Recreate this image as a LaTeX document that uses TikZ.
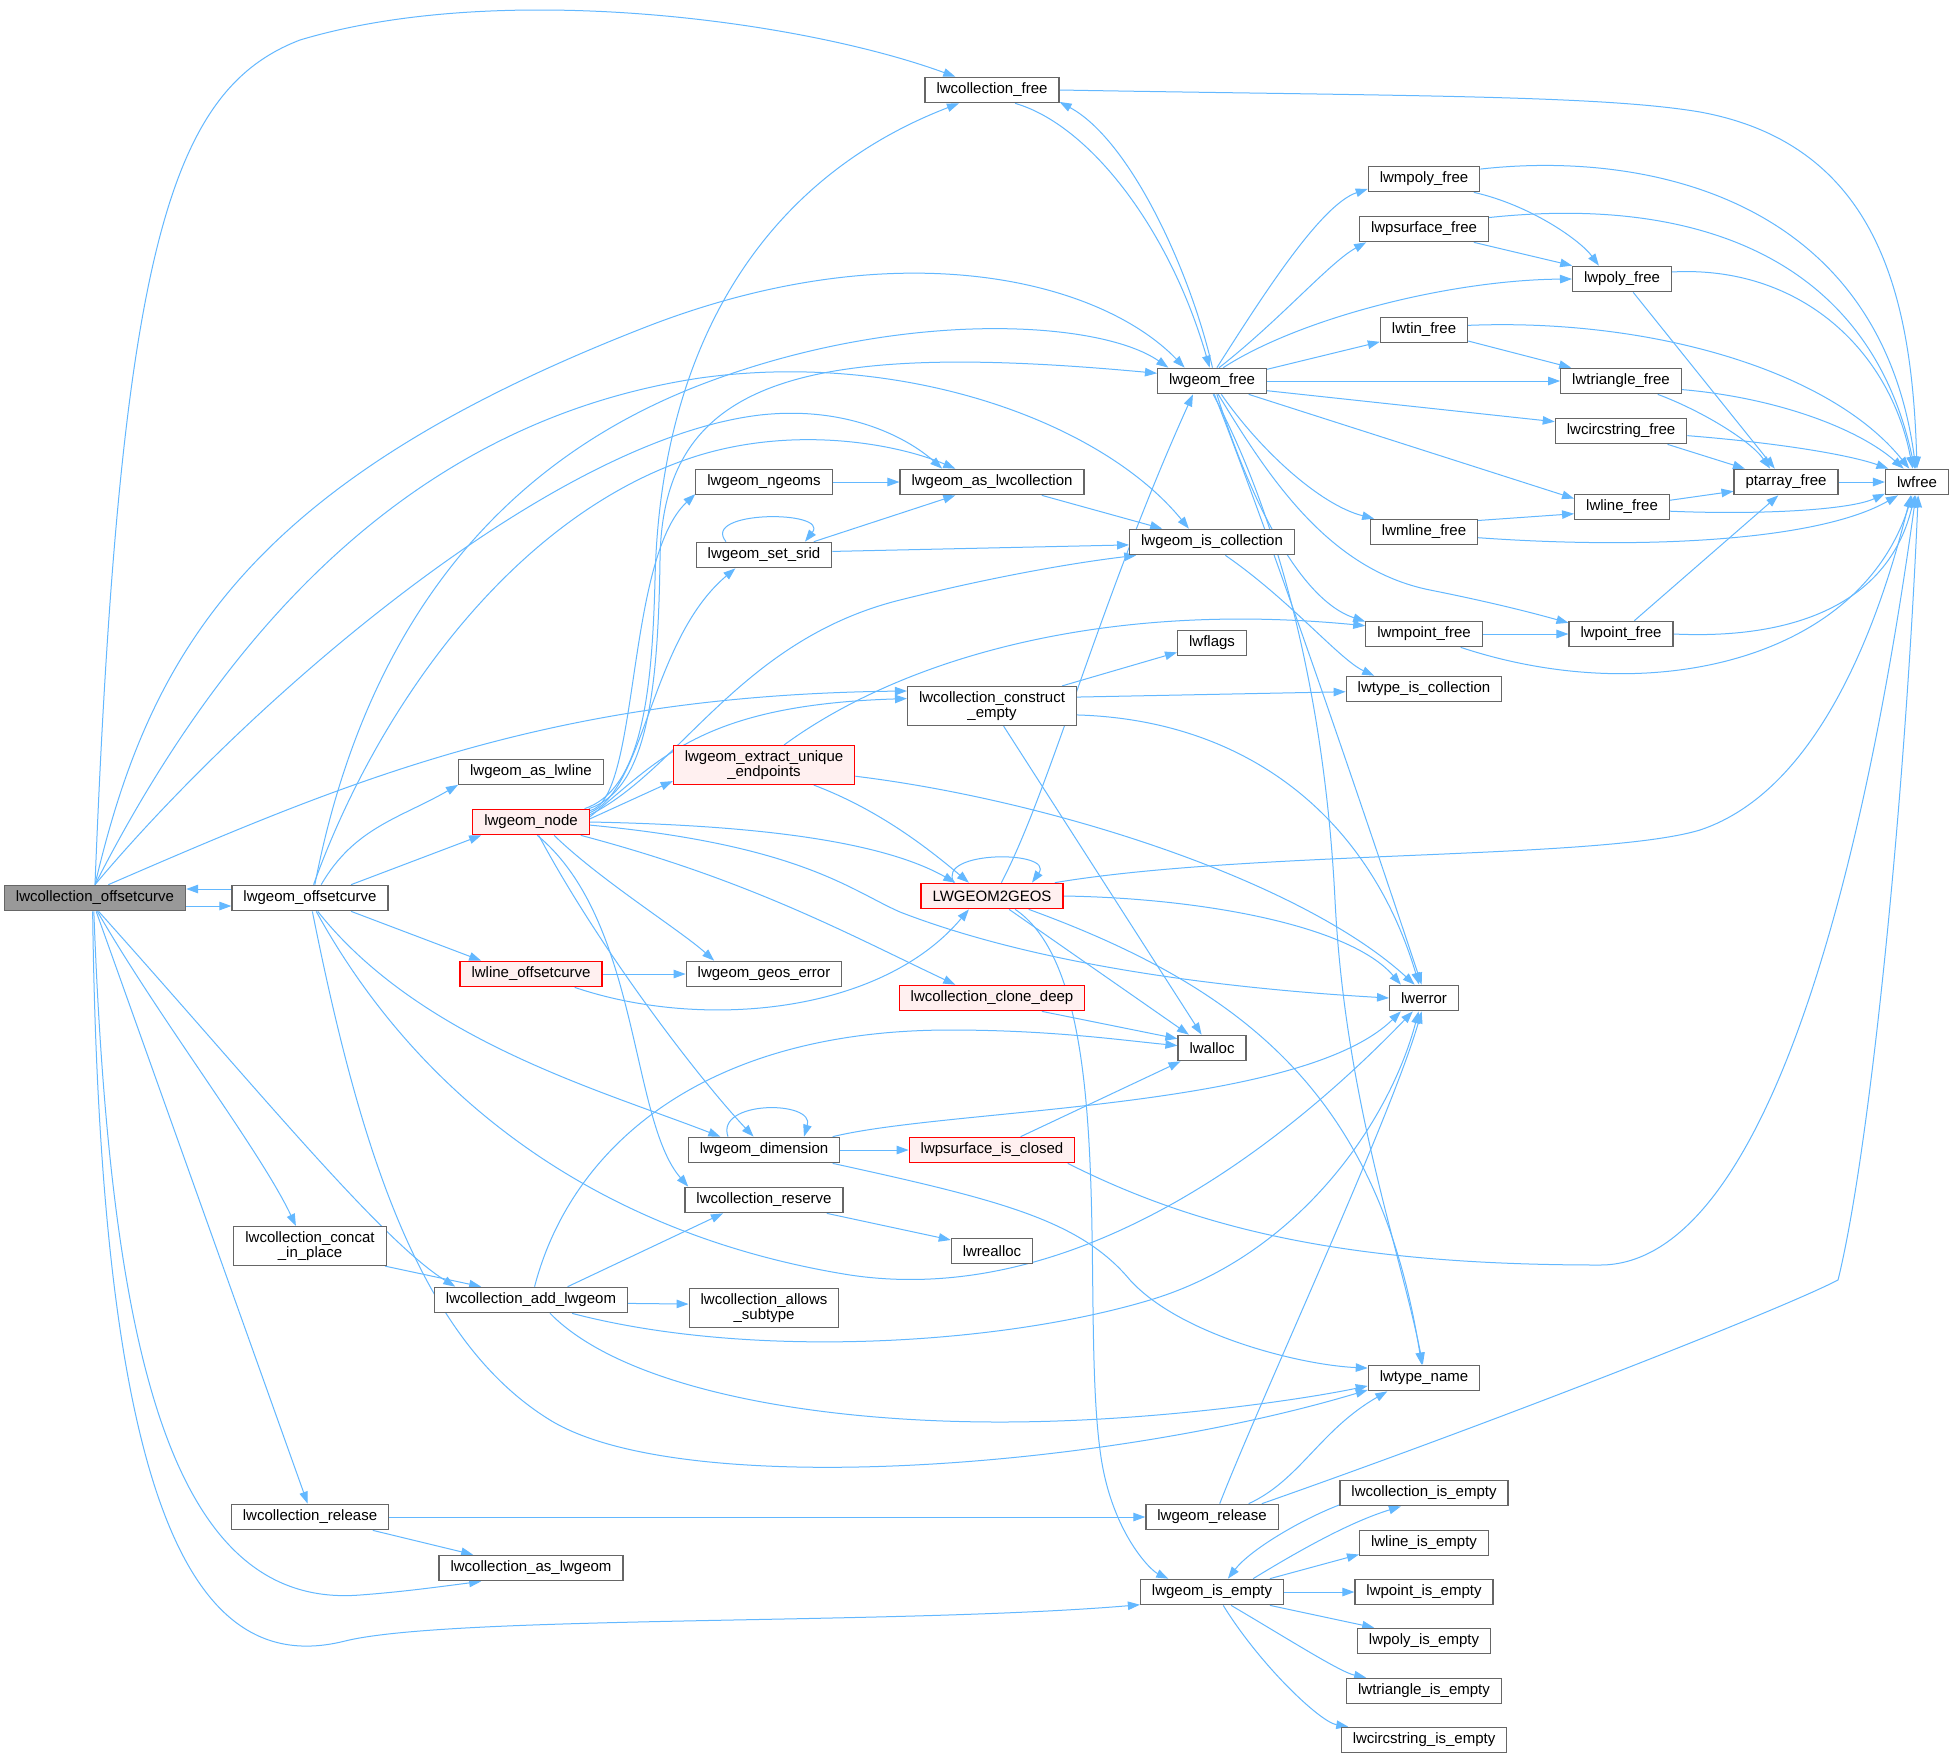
\documentclass[tikz,border=0pt]{standalone}
\usepackage{fontspec}
\setmainfont{Liberation Sans}
\usetikzlibrary{arrows.meta, backgrounds}
\definecolor{edgeblue}{RGB}{99, 184, 255}
\definecolor{nodegray}{RGB}{102, 102, 102}
\definecolor{rootgray}{RGB}{153, 153, 153}
\definecolor{truncpink}{RGB}{255, 240, 240}
\definecolor{truncred}{RGB}{255, 0, 0}

\begin{document}
\begin{tikzpicture}[
    x=1pt, y=-1pt,
    >={Triangle[length=12pt, width=8.5pt]},
    fn/.style={draw=nodegray, line width=1.2pt, fill=white, align=center,
               font=\fontsize{15}{15}\selectfont, inner xsep=11.5pt,
               inner ysep=5pt, minimum height=25.5pt},
    rootfn/.style={fn, fill=rootgray},
    truncfn/.style={fn, draw=truncred, fill=truncpink},
    call/.style={->, draw=edgeblue, line width=1pt},
]
\useasboundingbox (0,0) rectangle (1953,1757);

% --- Column 1-2: entry points ---
\node[rootfn] (offcol) at (95,898) {lwcollection\_offsetcurve};
\node[fn] (offgeom) at (310,898) {lwgeom\_offsetcurve};
\node[fn] (concat) at (310,1246) {lwcollection\_concat\\\_in\_place};
\node[fn] (colrelease) at (310,1517) {lwcollection\_release};

% --- Column 3 ---
\node[fn] (asline) at (531,772) {lwgeom\_as\_lwline};
\node[truncfn] (geomnode) at (531,822) {lwgeom\_node};
\node[truncfn] (lineoff) at (531,974) {lwline\_offsetcurve};
\node[fn] (addgeom) at (531,1300) {lwcollection\_add\_lwgeom};
\node[fn] (asgeom) at (531,1568) {lwcollection\_as\_lwgeom};

% --- Column 4 ---
\node[fn] (ngeoms) at (764,482) {lwgeom\_ngeoms};
\node[fn] (setsrid) at (764,555) {lwgeom\_set\_srid};
\node[truncfn] (endpts) at (764,765) {lwgeom\_extract\_unique\\\_endpoints};
\node[fn] (geoserr) at (764,974) {lwgeom\_geos\_error};
\node[fn] (dimension) at (764,1150) {lwgeom\_dimension};
\node[fn] (reserve) at (764,1200) {lwcollection\_reserve};
\node[fn] (allows) at (764,1308) {lwcollection\_allows\\\_subtype};

% --- Column 5 ---
\node[fn] (colfree) at (992,90) {lwcollection\_free};
\node[fn] (ascoll) at (992,482) {lwgeom\_as\_lwcollection};
\node[fn] (cempty) at (992,706) {lwcollection\_construct\\\_empty};
\node[truncfn] (togeos) at (992,896) {LWGEOM2GEOS};
\node[truncfn] (clonedeep) at (992,998) {lwcollection\_clone\_deep};
\node[truncfn] (psclosed) at (992,1150) {lwpsurface\_is\_closed};
\node[fn] (realloc) at (992,1251) {lwrealloc};

% --- Column 6 ---
\node[fn] (geomfree) at (1212,381) {lwgeom\_free};
\node[fn] (iscoll) at (1212,542) {lwgeom\_is\_collection};
\node[fn] (flags) at (1212,643) {lwflags};
\node[fn] (lwalloc) at (1212,1048) {lwalloc};
\node[fn] (release) at (1212,1517) {lwgeom\_release};
\node[fn] (isempty) at (1212,1592) {lwgeom\_is\_empty};

% --- Column 7 ---
\node[fn] (mpolyfree) at (1424,179) {lwmpoly\_free};
\node[fn] (psurffree) at (1424,229) {lwpsurface\_free};
\node[fn] (tinfree) at (1424,330) {lwtin\_free};
\node[fn] (mlinefree) at (1424,532) {lwmline\_free};
\node[fn] (mpointfree) at (1424,634) {lwmpoint\_free};
\node[fn] (typecoll) at (1424,689) {lwtype\_is\_collection};
\node[fn] (lwerror) at (1424,998) {lwerror};
\node[fn] (typename) at (1424,1378) {lwtype\_name};
\node[fn] (colempty) at (1424,1493) {lwcollection\_is\_empty};
\node[fn] (lineempty) at (1424,1543) {lwline\_is\_empty};
\node[fn] (pointempty) at (1424,1592) {lwpoint\_is\_empty};
\node[fn] (polyempty) at (1424,1641) {lwpoly\_is\_empty};
\node[fn] (triempty) at (1424,1691) {lwtriangle\_is\_empty};
\node[fn] (circempty) at (1424,1740) {lwcircstring\_is\_empty};

% --- Column 8-10 ---
\node[fn] (polyfree) at (1622,279) {lwpoly\_free};
\node[fn] (trifree) at (1621,381) {lwtriangle\_free};
\node[fn] (circfree) at (1621,431) {lwcircstring\_free};
\node[fn] (linefree) at (1622,507) {lwline\_free};
\node[fn] (pointfree) at (1621,634) {lwpoint\_free};
\node[fn] (ptafree) at (1786,482) {ptarray\_free};
\node[fn] (lwfree) at (1917,482) {lwfree};

\begin{scope}[on background layer]
\fill[white] (0,0) rectangle (1953,1757);

% ---- lwcollection_offsetcurve ----
\draw[call] (offcol.north) .. controls (120,250) and (170,90) .. (300,40)
    .. controls (500,-20) and (800,20) .. (colfree.160);
\draw[call] (offcol.north) .. controls (150,650) and (250,480) .. (651,325)
    .. controls (900,230) and (1100,280) .. (geomfree.154);
\draw[call] (offcol.north) .. controls (230,620) and (420,420) .. (700,378)
    .. controls (900,350) and (1100,420) .. (iscoll.150);
\draw[call] (offcol.north) .. controls (250,700) and (550,440) .. (760,415)
    .. controls (850,405) and (910,440) .. (ascoll.165);
\draw[call] (offcol.45) .. controls (350,780) and (550,695) .. (cempty.170);
\draw[call] ([yshift=-8pt]offcol.east) -- ([yshift=-8pt]offgeom.west);
\draw[call] (offcol.-80) .. controls (160,1020) and (260,1150) .. (concat.125);
\draw[call] (offcol.-75) .. controls (250,1080) and (380,1240) .. (addgeom.170);
\draw[call] (offcol.-85) -- (colrelease.100);
\draw[call] (offcol.-95) .. controls (110,1350) and (170,1610) .. (360,1595)
    .. controls (400,1592) and (430,1588) .. (asgeom.195);
\draw[call] (offcol.-100) .. controls (100,1500) and (190,1680) .. (345,1641)
    .. controls (450,1615) and (900,1625) .. (isempty.190);

% ---- lwgeom_offsetcurve ----
\draw[call] ([yshift=9pt]offgeom.west) -- ([yshift=9pt]offcol.east);
\draw[call] (offgeom.50) to[out=60, in=210] (asline.190);
\draw[call] (offgeom.18) -- (geomnode.195);
\draw[call] (offgeom.-18) -- (lineoff.165);
\draw[call] (offgeom.-60) .. controls (420,1040) and (600,1090) .. (dimension.163);
\draw[call] (offgeom.70) .. controls (360,650) and (480,470) .. (700,385)
    .. controls (900,308) and (1100,320) .. (geomfree.163);
\draw[call] (offgeom.75) .. controls (380,700) and (520,510) .. (700,455)
    .. controls (800,425) and (900,445) .. (ascoll.160);
\draw[call] (offgeom.-80) .. controls (360,1150) and (420,1340) .. (550,1420)
    .. controls (680,1500) and (1100,1470) .. (typename.-168);
\draw[call] (offgeom.-65) .. controls (420,1100) and (600,1235) .. (850,1275)
    .. controls (1050,1305) and (1250,1180) .. (lwerror.-130);

% ---- lwcollection_free / lwgeom_free ----
\draw[call] (colfree.-30) .. controls (1090,125) and (1170,230) .. (geomfree.100);
\draw[call] (geomfree.88) .. controls (1190,270) and (1130,140) .. (colfree.-10);
\draw[call] (colfree.east) .. controls (1400,96) and (1600,95) .. (1700,112)
    .. controls (1880,145) and (1912,300) .. (lwfree.90);
\draw[call] (geomfree.70) .. controls (1260,300) and (1320,205) .. (mpolyfree.190);
\draw[call] (geomfree.62) .. controls (1280,320) and (1330,262) .. (psurffree.193);
\draw[call] (geomfree.50) .. controls (1300,318) and (1450,280) .. (polyfree.west);
\draw[call] (geomfree.12) -- (tinfree.195);
\draw[call] (geomfree.east) -- (trifree.west);
\draw[call] (geomfree.-10) -- (circfree.172);
\draw[call] (geomfree.-20) -- (linefree.170);
\draw[call] (geomfree.-55) .. controls (1260,450) and (1320,505) .. (mlinefree.165);
\draw[call] (geomfree.-70) .. controls (1250,500) and (1300,600) .. (mpointfree.168);
\draw[call] (geomfree.-65) .. controls (1270,480) and (1330,570) .. (1430,590)
    .. controls (1500,604) and (1540,615) .. (pointfree.168);
\draw[call] (geomfree.-80) .. controls (1240,460) and (1300,620) .. (lwerror.100);
\draw[call] (geomfree.-85) .. controls (1280,520) and (1325,700) .. (1335,900)
    .. controls (1345,1100) and (1400,1250) .. (typename.95);

% ---- the free chain ----
\draw[call] (mpolyfree.10) .. controls (1650,150) and (1880,200) .. (lwfree.95);
\draw[call] (mpolyfree.-15) .. controls (1530,205) and (1580,240) .. (polyfree.150);
\draw[call] (psurffree.10) .. controls (1700,195) and (1870,260) .. (lwfree.100);
\draw[call] (psurffree.-15) -- (polyfree.165);
\draw[call] (polyfree.8) .. controls (1800,265) and (1890,350) .. (lwfree.108);
\draw[call] (polyfree.-50) -- (ptafree.130);
\draw[call] (tinfree.6) .. controls (1650,318) and (1830,370) .. (lwfree.120);
\draw[call] (tinfree.-14) -- (trifree.165);
\draw[call] (trifree.-20) .. controls (1700,410) and (1750,440) .. (ptafree.140);
\draw[call] (trifree.-8) .. controls (1780,398) and (1860,430) .. (lwfree.135);
\draw[call] (circfree.-16) -- (ptafree.162);
\draw[call] (circfree.-4) .. controls (1780,443) and (1850,455) .. (lwfree.155);
\draw[call] (ptafree.east) -- (lwfree.west);
\draw[call] (linefree.8) -- (ptafree.190);
\draw[call] (linefree.-5) .. controls (1760,515) and (1850,510) .. (lwfree.-160);
\draw[call] (mlinefree.12) -- (linefree.188);
\draw[call] (mlinefree.-6) .. controls (1650,550) and (1820,540) .. (lwfree.-145);
\draw[call] (mpointfree.east) -- (pointfree.west);
\draw[call] (mpointfree.-20) .. controls (1650,710) and (1860,660) .. (lwfree.-110);
\draw[call] (pointfree.45) -- (ptafree.-120);
\draw[call] (pointfree.east) .. controls (1800,640) and (1890,600) .. (lwfree.-100);

% ---- lwgeom_node ----
\draw[call] (geomnode.14) .. controls (640,790) and (652,700) .. (655,580)
    .. controls (660,350) and (760,180) .. (colfree.-158);
\draw[call] (geomnode.13) .. controls (645,790) and (658,700) .. (660,560)
    .. controls (662,380) and (800,340) .. (geomfree.172);
\draw[call] (geomnode.11) .. controls (640,800) and (625,560) .. (ngeoms.190);
\draw[call] (geomnode.9) .. controls (645,790) and (650,640) .. (setsrid.-155);
\draw[call] (geomnode.7) .. controls (680,770) and (740,640) .. (900,600)
    .. controls (1000,575) and (1080,562) .. (iscoll.-170);
\draw[call] (geomnode.5) .. controls (660,760) and (700,705) .. (cempty.175);
\draw[call] (geomnode.3) -- (endpts.-170);
\draw[call] (geomnode.east) .. controls (750,825) and (880,840) .. (togeos.160);
\draw[call] (geomnode.-3) .. controls (800,845) and (850,890) .. (900,912)
    .. controls (1050,970) and (1250,990) .. (lwerror.west);
\draw[call] (geomnode.-15) .. controls (750,880) and (850,935) .. (clonedeep.160);
\draw[call] (geomnode.-30) .. controls (600,880) and (680,930) .. (geoserr.165);
\draw[call] (geomnode.-60) .. controls (600,950) and (700,1080) .. (dimension.128);
\draw[call] (geomnode.-65) .. controls (640,920) and (630,1120) .. (reserve.170);

% ---- lwgeom_extract_unique_endpoints ----
\draw[call] (endpts.45) .. controls (900,660) and (1100,600) .. (mpointfree.172);
\draw[call] (endpts.-7) .. controls (1050,800) and (1300,880) .. (lwerror.125);
\draw[call] (endpts.-22) .. controls (880,810) and (930,850) .. (togeos.150);

% ---- LWGEOM2GEOS ----
\draw[call] ([xshift=-38pt]togeos.north) .. controls (935,850) and (1055,850)
    .. ([xshift=40pt]togeos.north);
\draw[call] (togeos.55) .. controls (1050,790) and (1100,600) .. (geomfree.-145);
\draw[call] (togeos.12) .. controls (1250,850) and (1600,860) .. (1700,830)
    .. controls (1820,790) and (1880,620) .. (lwfree.-115);
\draw[call] (togeos.east) .. controls (1200,898) and (1350,925) .. (lwerror.150);
\draw[call] (togeos.-38) -- (lwalloc.150);
\draw[call] (togeos.-30) .. controls (1120,980) and (1080,1300) .. (1100,1450)
    .. controls (1110,1530) and (1150,1570) .. (isempty.163);
\draw[call] (togeos.-20) .. controls (1250,990) and (1380,1100) .. (typename.100);

% ---- lwline_offsetcurve / clone ----
\draw[call] (lineoff.east) -- (geoserr.west);
\draw[call] (lineoff.-17) .. controls (700,1030) and (880,1015) .. (togeos.-150);
\draw[call] (clonedeep.-15) -- (lwalloc.165);

% ---- lwcollection_construct_empty ----
\draw[call] (cempty.16) -- (flags.195);
\draw[call] (cempty.6) -- (typecoll.182);
\draw[call] (cempty.-6) .. controls (1250,720) and (1370,820) .. (lwerror.110);
\draw[call] (cempty.-60) -- (lwalloc.128);

% ---- collection helpers ----
\draw[call] (ngeoms.east) -- (ascoll.west);
\draw[call] (setsrid.15) -- (ascoll.-160);
\draw[call] (setsrid.3) -- (iscoll.-178);
\draw[call] ([xshift=-38pt]setsrid.north) .. controls (700,510) and (830,510)
    .. ([xshift=41pt]setsrid.north);
\draw[call] (ascoll.-15) -- (iscoll.165);
\draw[call] (iscoll.-45) .. controls (1290,600) and (1340,660) .. (typecoll.165);

% ---- lwgeom_dimension / lwpsurface_is_closed ----
\draw[call] ([xshift=-36pt]dimension.north) .. controls (715,1100) and (815,1100)
    .. ([xshift=40pt]dimension.north);
\draw[call] (dimension.east) -- (psclosed.west);
\draw[call] (dimension.11) .. controls (950,1108) and (1300,1110) .. (lwerror.-150);
\draw[call] (dimension.-11) .. controls (1000,1200) and (1080,1220) .. (1130,1280)
    .. controls (1180,1335) and (1300,1365) .. (typename.170);
\draw[call] (psclosed.25) -- (lwalloc.-157);
\draw[call] (psclosed.-10) .. controls (1200,1230) and (1350,1265) .. (1600,1265)
    .. controls (1760,1265) and (1860,900) .. (lwfree.-95);
\draw[call] (reserve.-12) -- (realloc.165);

% ---- lwcollection_add_lwgeom ----
\draw[call] (concat.-15) -- (addgeom.165);
\draw[call] (addgeom.20) -- (reserve.-162);
\draw[call] (addgeom.-2) -- (allows.177);
\draw[call] (addgeom.75) .. controls (570,1150) and (700,1030) .. (950,1030)
    .. controls (1050,1030) and (1120,1040) .. (lwalloc.176);
\draw[call] (addgeom.-18) .. controls (750,1360) and (1000,1345) .. (1150,1300)
    .. controls (1300,1255) and (1390,1120) .. (lwerror.-112);
\draw[call] (addgeom.-35) .. controls (620,1385) and (800,1422) .. (1000,1422)
    .. controls (1150,1422) and (1300,1400) .. (typename.-172);

% ---- release ----
\draw[call] (colrelease.east) -- (release.west);
\draw[call] (colrelease.-12) -- (asgeom.167);
\draw[call] (release.60) .. controls (1260,1400) and (1390,1120) .. (lwerror.-100);
\draw[call] (release.20) .. controls (1300,1480) and (1320,1430) .. (typename.-160);
\draw[call] (release.15) .. controls (1500,1420) and (1780,1310) .. (1838,1280)
    .. controls (1870,1150) and (1905,800) .. (lwfree.-85);

% ---- lwgeom_is_empty ----
\draw[call] (isempty.18) .. controls (1300,1550) and (1350,1522) .. (colempty.-150);
\draw[call] (colempty.-172) .. controls (1300,1520) and (1250,1550) .. (isempty.40);
\draw[call] (isempty.13) -- (lineempty.190);
\draw[call] (isempty.east) -- (pointempty.west);
\draw[call] (isempty.-13) -- (polyempty.165);
\draw[call] (isempty.-35) .. controls (1290,1640) and (1340,1672) .. (triempty.167);
\draw[call] (isempty.-50) .. controls (1260,1665) and (1320,1722) .. (circempty.170);
\end{scope}

\end{tikzpicture}
\end{document}
